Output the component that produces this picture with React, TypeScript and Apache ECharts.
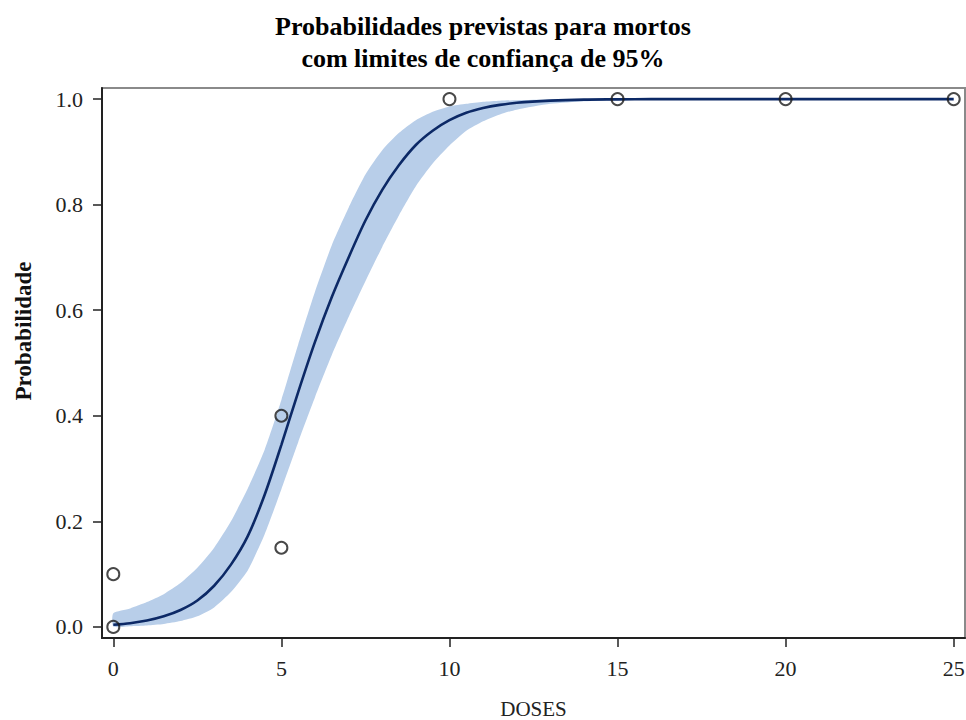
import React, { useEffect, useRef } from 'react';
import * as echarts from 'echarts';

const titleLines = ['Probabilidades previstas para mortos', 'com limites de confiança de 95%'];
const xAxisName = 'DOSES';
const yAxisName = 'Probabilidade';

const doses = [0, 0.5, 1, 1.5, 2, 2.5, 3, 3.5, 4, 4.5, 5, 5.5, 6, 6.5, 7, 7.5, 8, 8.5, 9, 9.5, 10, 10.5, 11, 11.5, 12, 13, 14, 15, 16, 17, 18, 19, 20, 21, 22, 23, 24, 25];
const fitted = [0.004, 0.007, 0.012, 0.02, 0.032, 0.05, 0.078, 0.118, 0.172, 0.25, 0.345, 0.445, 0.54, 0.625, 0.7, 0.77, 0.828, 0.875, 0.913, 0.94, 0.96, 0.974, 0.983, 0.989, 0.993, 0.997, 0.999, 0.9995, 1, 1, 1, 1, 1, 1, 1, 1, 1, 1];
const upperCL = [0.026, 0.035, 0.047, 0.062, 0.083, 0.112, 0.15, 0.2, 0.262, 0.335, 0.43, 0.535, 0.635, 0.723, 0.794, 0.857, 0.903, 0.936, 0.96, 0.976, 0.986, 0.991, 0.995, 0.997, 0.998, 0.9993, 1, 1, 1, 1, 1, 1, 1, 1, 1, 1, 1, 1];
const lowerCL = [0.0006, 0.0013, 0.0027, 0.0055, 0.011, 0.02, 0.037, 0.066, 0.107, 0.175, 0.261, 0.35, 0.435, 0.515, 0.587, 0.655, 0.72, 0.78, 0.835, 0.878, 0.912, 0.94, 0.958, 0.971, 0.98, 0.991, 0.996, 0.998, 0.999, 1, 1, 1, 1, 1, 1, 1, 1, 1];

const obsDoses = [0, 0, 5, 5, 10, 15, 20, 25];
const obsProb = [0, 0.1, 0.4, 0.15, 1, 1, 1, 1];

const xTicks = [0, 5, 10, 15, 20, 25];
const yTicks = [0, 0.2, 0.4, 0.6, 0.8, 1.0];

export default function App() {
  const ref = useRef<HTMLDivElement>(null);
  useEffect(() => {
    document.body.style.margin = '0';
    const chart = echarts.init(ref.current!, null, { renderer: 'svg' });
    const serif = "'Liberation Serif', 'Times New Roman', serif";
    chart.setOption({
      animation: false,
      backgroundColor: '#ffffff',
      title: {
        text: titleLines.join('\n'),
        left: 'center',
        top: 5,
        textStyle: { fontFamily: serif, fontWeight: 'bold', fontSize: 26, lineHeight: 32, color: '#000' },
      },
      grid: {
        left: 102,
        right: 1,
        top: 88,
        bottom: 82,
        show: true,
        borderColor: '#8a8a8a',
        borderWidth: 2,
        containLabel: false,
        outerBoundsMode: 'none',
      },
      xAxis: {
        type: 'value',
        min: -0.336,
        max: 25.336,
        name: xAxisName,
        nameLocation: 'middle',
        nameGap: 60,
        nameTextStyle: { fontFamily: serif, fontSize: 21, color: '#222' },
        axisLine: { show: true, onZero: false, lineStyle: { color: '#222', width: 2 } },
        axisTick: { show: true, length: 9, customValues: xTicks, lineStyle: { color: '#222', width: 1.5 } },
        axisLabel: { customValues: xTicks, margin: 19, fontFamily: serif, fontSize: 22, color: '#222' },
        splitLine: { show: false },
      },
      yAxis: {
        type: 'value',
        min: -0.021,
        max: 1.021,
        axisLine: { show: true, onZero: false, lineStyle: { color: '#222', width: 2 } },
        axisTick: { show: true, length: 9, customValues: yTicks, lineStyle: { color: '#222', width: 1.5 } },
        axisLabel: {
          customValues: yTicks,
          margin: 19,
          fontFamily: serif,
          fontSize: 22,
          color: '#222',
          formatter: (v: number) => v.toFixed(1),
        },
        splitLine: { show: false },
      },
      graphic: [
        {
          type: 'text',
          x: 23,
          y: 331,
          rotation: Math.PI / 2,
          style: {
            text: yAxisName,
            fontFamily: serif,
            fontWeight: 'bold',
            fontSize: 23,
            fill: '#111',
            align: 'center',
            verticalAlign: 'middle',
          },
        },
      ],
      series: [
        {
          type: 'custom',
          silent: true,
          data: [[0, 0]],
          renderItem: (_params: any, api: any) => {
            const pts: number[][] = [];
            for (let i = 0; i < doses.length; i++) pts.push(api.coord([doses[i], upperCL[i]]));
            for (let i = doses.length - 1; i >= 0; i--) pts.push(api.coord([doses[i], lowerCL[i]]));
            return { type: 'polygon', shape: { points: pts, smooth: 0.2 }, style: { fill: '#b8cee9' } };
          },
          z: 1,
        },
        {
          type: 'line',
          data: doses.map((d, i) => [d, fitted[i]]),
          showSymbol: false,
          smooth: 0.3,
          lineStyle: { color: '#0c2966', width: 2.6 },
          z: 3,
        },
        {
          type: 'scatter',
          data: obsDoses.map((d, i) => [d, obsProb[i]]),
          symbol: 'circle',
          symbolSize: 12,
          itemStyle: { color: 'rgba(0,0,0,0)', borderColor: '#1a1a1a', borderWidth: 2 },
          z: 4,
        },
      ],
    });
    return () => chart.dispose();
  }, []);
  return <div ref={ref} style={{ width: 966, height: 720 }} />;
}
